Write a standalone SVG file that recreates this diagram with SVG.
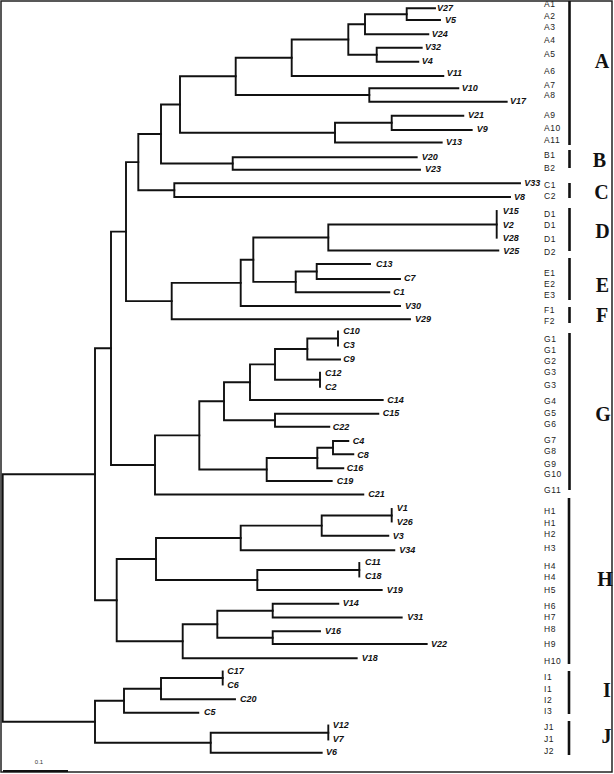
<svg xmlns="http://www.w3.org/2000/svg" width="614" height="774" viewBox="0 0 614 774">
<style>
.br{fill:none;stroke:#111;stroke-width:1.9;stroke-linecap:square}
.lf{font-family:"Liberation Sans",Arial,sans-serif;font-size:9px;font-weight:bold;font-style:italic;fill:#111}
.sl{font-family:"Liberation Sans",Arial,sans-serif;font-size:8.5px;fill:#222;letter-spacing:0.6px}
.bar{stroke:#111;stroke-width:2.6}
.big{font-family:"Liberation Serif","Times New Roman",serif;font-size:20px;font-weight:bold;fill:#111;text-anchor:middle}
</style>
<rect x="1" y="1" width="611" height="771" fill="#fff" stroke="#222" stroke-width="1.5"/>
<g id="connectors" class="br">
<path d="M435 8.3H406.7V20H440"/>
<path d="M406.7 14.2H365V34.3H428.3"/>
<path d="M421.7 47.7H376.7V61.7H418.3"/>
<path d="M365 24.2H348.3V54.7H376.7"/>
<path d="M348.3 39.5H291.7V76H443.3"/>
<path d="M458.3 88.3H369.3V101.7H506.7"/>
<path d="M291.7 57.7H235.7V95H369.3"/>
<path d="M463.3 115.7H391.7V130H471.7"/>
<path d="M391.7 122.8H335V142.5H441.7"/>
<path d="M235.7 76.3H180V132.7H335"/>
<path d="M416.7 157.3H232.7V169.7H420"/>
<path d="M180 104.5H161V163.5H232.7"/>
<path d="M520 183.3H174.3V197H510"/>
<path d="M161 134H138.3V190.2H174.3"/>
<path d="M496.7 211V237.7"/>
<path d="M496.7 224.5H328.3V250.5H498.3"/>
<path d="M370 264H316.7V279H400"/>
<path d="M316.7 271.5H295.7V292.3H389.3"/>
<path d="M328.3 237.5H253.3V281.9H295.7"/>
<path d="M253.3 259.7H240.7V306H400"/>
<path d="M240.7 282.9H171.7V319.3H410"/>
<path d="M138.3 162.1H126V301.1H171.7"/>
<path d="M338 331.5V345.5"/>
<path d="M338 338.5H307.3V359.5H340"/>
<path d="M320 372.7V386.7"/>
<path d="M307.3 349H275V379.7H320"/>
<path d="M275 364.4H250V400H382.7"/>
<path d="M378.3 413.7H275V426.8H329.3"/>
<path d="M250 382.2H224V420.3H275"/>
<path d="M348.3 441H333V454.3H353.3"/>
<path d="M333 447.7H317.3V468.3H343.3"/>
<path d="M317.3 458H266.7V481H331.7"/>
<path d="M224 401.2H199.3V469.5H266.7"/>
<path d="M199.3 435.4H155V494.5H363.3"/>
<path d="M126 231.6H111V465H155"/>
<path d="M391.7 509V521.5"/>
<path d="M391.7 515.5H321.7V535.7H388.3"/>
<path d="M321.7 525.6H240.7V550.3H394.3"/>
<path d="M359.3 563V576.5"/>
<path d="M359.3 570H257.3V590H381.7"/>
<path d="M240.7 538H156V580H257.3"/>
<path d="M338.3 603.8H272.7V617.5H401.7"/>
<path d="M320 631.3H272.7V644H426.7"/>
<path d="M272.7 610.7H217.3V637.7H272.7"/>
<path d="M217.3 624.2H182.7V658.3H356.7"/>
<path d="M156 559H116.7V641.3H182.7"/>
<path d="M111 348.3H95V600.2H116.7"/>
<path d="M222.7 671.5V684.5"/>
<path d="M222.7 678H161V699.3H235"/>
<path d="M161 688.7H124V712.7H198.3"/>
<path d="M328.3 725.5V739.5"/>
<path d="M328.3 732.7H210.7V752.8H321.7"/>
<path d="M124 700.7H95V742.7H210.7"/>
<path d="M95 474.2H2.7V721.7H95"/>
</g>
<g id="leaves">
<g id="leaf-V27"><text class="lf" x="437" y="10.5">V27</text></g>
<g id="leaf-V5"><text class="lf" x="445" y="23.2">V5</text></g>
<g id="leaf-V24"><text class="lf" x="431.7" y="36.7">V24</text></g>
<g id="leaf-V32"><text class="lf" x="425" y="50.2">V32</text></g>
<g id="leaf-V4"><text class="lf" x="421.7" y="64.2">V4</text></g>
<g id="leaf-V11"><text class="lf" x="446.7" y="75.9">V11</text></g>
<g id="leaf-V10"><text class="lf" x="461.7" y="90.5">V10</text></g>
<g id="leaf-V17"><text class="lf" x="510" y="103.9">V17</text></g>
<g id="leaf-V21"><text class="lf" x="468" y="118.2">V21</text></g>
<g id="leaf-V9"><text class="lf" x="476.7" y="132.2">V9</text></g>
<g id="leaf-V13"><text class="lf" x="446" y="145.2">V13</text></g>
<g id="leaf-V20"><text class="lf" x="421.7" y="159.9">V20</text></g>
<g id="leaf-V23"><text class="lf" x="425" y="172.2">V23</text></g>
<g id="leaf-V33"><text class="lf" x="524.3" y="186.2">V33</text></g>
<g id="leaf-V8"><text class="lf" x="514" y="199.9">V8</text></g>
<g id="leaf-V15"><text class="lf" x="502.7" y="214.2">V15</text></g>
<g id="leaf-V2"><text class="lf" x="502.7" y="227.5">V2</text></g>
<g id="leaf-V28"><text class="lf" x="502.7" y="240.9">V28</text></g>
<g id="leaf-V25"><text class="lf" x="503.3" y="253.5">V25</text></g>
<g id="leaf-C13"><text class="lf" x="376" y="267.2">C13</text></g>
<g id="leaf-C7"><text class="lf" x="404" y="281.2">C7</text></g>
<g id="leaf-C1"><text class="lf" x="393.3" y="294.9">C1</text></g>
<g id="leaf-V30"><text class="lf" x="405" y="308.5">V30</text></g>
<g id="leaf-V29"><text class="lf" x="415" y="322.2">V29</text></g>
<g id="leaf-C10"><text class="lf" x="343.3" y="334.2">C10</text></g>
<g id="leaf-C3"><text class="lf" x="343.3" y="348.2">C3</text></g>
<g id="leaf-C9"><text class="lf" x="343.3" y="362.2">C9</text></g>
<g id="leaf-C12"><text class="lf" x="325" y="375.7">C12</text></g>
<g id="leaf-C2"><text class="lf" x="325" y="389.9">C2</text></g>
<g id="leaf-C14"><text class="lf" x="387.3" y="403.2">C14</text></g>
<g id="leaf-C15"><text class="lf" x="382.7" y="415.9">C15</text></g>
<g id="leaf-C22"><text class="lf" x="332.7" y="429.9">C22</text></g>
<g id="leaf-C4"><text class="lf" x="352.7" y="443.9">C4</text></g>
<g id="leaf-C8"><text class="lf" x="357.3" y="457.5">C8</text></g>
<g id="leaf-C16"><text class="lf" x="346.7" y="471.2">C16</text></g>
<g id="leaf-C19"><text class="lf" x="336.7" y="483.9">C19</text></g>
<g id="leaf-C21"><text class="lf" x="368.3" y="497.2">C21</text></g>
<g id="leaf-V1"><text class="lf" x="396.7" y="510.5">V1</text></g>
<g id="leaf-V26"><text class="lf" x="396.7" y="524.9">V26</text></g>
<g id="leaf-V3"><text class="lf" x="392.7" y="538.5">V3</text></g>
<g id="leaf-V34"><text class="lf" x="399.3" y="553.2">V34</text></g>
<g id="leaf-C11"><text class="lf" x="365" y="564.9">C11</text></g>
<g id="leaf-C18"><text class="lf" x="365" y="578.9">C18</text></g>
<g id="leaf-V19"><text class="lf" x="386.7" y="592.9">V19</text></g>
<g id="leaf-V14"><text class="lf" x="342.7" y="606.2">V14</text></g>
<g id="leaf-V31"><text class="lf" x="407.3" y="620.2">V31</text></g>
<g id="leaf-V16"><text class="lf" x="325" y="633.9">V16</text></g>
<g id="leaf-V22"><text class="lf" x="431" y="646.5">V22</text></g>
<g id="leaf-V18"><text class="lf" x="361.7" y="660.9">V18</text></g>
<g id="leaf-C17"><text class="lf" x="227.3" y="673.9">C17</text></g>
<g id="leaf-C6"><text class="lf" x="227.3" y="687.9">C6</text></g>
<g id="leaf-C20"><text class="lf" x="240" y="701.5">C20</text></g>
<g id="leaf-C5"><text class="lf" x="204" y="715.2">C5</text></g>
<g id="leaf-V12"><text class="lf" x="332.7" y="728.2">V12</text></g>
<g id="leaf-V7"><text class="lf" x="332.7" y="742.2">V7</text></g>
<g id="leaf-V6"><text class="lf" x="326" y="755.2">V6</text></g>
</g>
<g id="cluster-A">
<text class="sl" x="544" y="7.2">A1</text><text class="sl" x="544" y="19.2">A2</text><text class="sl" x="544" y="29.9">A3</text><text class="sl" x="544" y="43.2">A4</text><text class="sl" x="544" y="57.2">A5</text><text class="sl" x="544" y="73.9">A6</text><text class="sl" x="544" y="88.2">A7</text><text class="sl" x="544" y="98.2">A8</text><text class="sl" x="544" y="118.2">A9</text><text class="sl" x="544" y="130.7">A10</text><text class="sl" x="544" y="143.2">A11</text>
<line class="bar" x1="569.5" y1="1" x2="569.5" y2="145"/>
<text class="big" x="602" y="68.3">A</text>
</g>
<g id="cluster-B">
<text class="sl" x="544" y="158.2">B1</text><text class="sl" x="544" y="170.9">B2</text>
<line class="bar" x1="569.5" y1="150" x2="569.5" y2="168"/>
<text class="big" x="599.5" y="166.7">B</text>
</g>
<g id="cluster-C">
<text class="sl" x="544" y="188.2">C1</text><text class="sl" x="544" y="199.2">C2</text>
<line class="bar" x1="569.5" y1="183" x2="569.5" y2="198"/>
<text class="big" x="601.5" y="199">C</text>
</g>
<g id="cluster-D">
<text class="sl" x="544" y="216.5">D1</text><text class="sl" x="544" y="228.2">D1</text><text class="sl" x="544" y="241.5">D1</text><text class="sl" x="544" y="254.5">D2</text>
<line class="bar" x1="569.5" y1="208" x2="569.5" y2="251"/>
<text class="big" x="602.5" y="238.3">D</text>
</g>
<g id="cluster-E">
<text class="sl" x="544" y="275.9">E1</text><text class="sl" x="544" y="286.5">E2</text><text class="sl" x="544" y="298.2">E3</text>
<line class="bar" x1="569.5" y1="258" x2="569.5" y2="300"/>
<text class="big" x="602.5" y="291.7">E</text>
</g>
<g id="cluster-F">
<text class="sl" x="544" y="313.2">F1</text><text class="sl" x="544" y="324.2">F2</text>
<line class="bar" x1="569.5" y1="307" x2="569.5" y2="323"/>
<text class="big" x="602" y="321.7">F</text>
</g>
<g id="cluster-G">
<text class="sl" x="544" y="341.5">G1</text><text class="sl" x="544" y="352.5">G1</text><text class="sl" x="544" y="363.9">G2</text><text class="sl" x="544" y="374.9">G3</text><text class="sl" x="544" y="388.2">G3</text><text class="sl" x="544" y="404.2">G4</text><text class="sl" x="544" y="415.9">G5</text><text class="sl" x="544" y="427.2">G6</text><text class="sl" x="544" y="442.5">G7</text><text class="sl" x="544" y="454.2">G8</text><text class="sl" x="544" y="466.5">G9</text><text class="sl" x="544" y="477.2">G10</text><text class="sl" x="544" y="493.2">G11</text>
<line class="bar" x1="569.5" y1="333" x2="569.5" y2="490"/>
<text class="big" x="603" y="420.7">G</text>
</g>
<g id="cluster-H">
<text class="sl" x="544" y="513.9">H1</text><text class="sl" x="544" y="525.9">H1</text><text class="sl" x="544" y="537.2">H2</text><text class="sl" x="544" y="550.5">H3</text><text class="sl" x="544" y="569.2">H4</text><text class="sl" x="544" y="579.9">H4</text><text class="sl" x="544" y="592.5">H5</text><text class="sl" x="544" y="609.2">H6</text><text class="sl" x="544" y="619.9">H7</text><text class="sl" x="544" y="631.5">H8</text><text class="sl" x="544" y="646.5">H9</text><text class="sl" x="544" y="664.2">H10</text>
<line class="bar" x1="569" y1="498" x2="569" y2="664"/>
<text class="big" x="605" y="586">H</text>
</g>
<g id="cluster-I">
<text class="sl" x="544" y="679.9">I1</text><text class="sl" x="544" y="691.5">I1</text><text class="sl" x="544" y="703.2">I2</text><text class="sl" x="544" y="714.2">I3</text>
<line class="bar" x1="569" y1="671" x2="569" y2="714"/>
<text class="big" x="607" y="696.7">I</text>
</g>
<g id="cluster-J">
<text class="sl" x="544" y="729.9">J1</text><text class="sl" x="544" y="741.5">J1</text><text class="sl" x="544" y="754.2">J2</text>
<line class="bar" x1="569" y1="721" x2="569" y2="755"/>
<text class="big" x="606.5" y="743">J</text>
</g>
<g id="scale">
<text x="39" y="764" font-family="Liberation Sans,Arial,sans-serif" font-size="6" fill="#333" text-anchor="middle">0.1</text>
<line x1="3" y1="771" x2="68" y2="771" stroke="#111" stroke-width="2"/>
</g>
</svg>
